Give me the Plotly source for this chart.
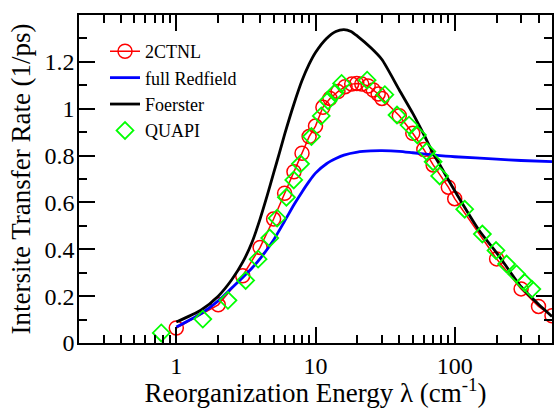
import plotly.graph_objects as go

# 2CTNL (red circles + line)
ctnl_x = [1, 2, 3, 4, 5, 6, 7, 8, 9, 10, 11.3, 12.7, 14.5, 16.3, 18.2, 19.8, 21.5, 23.9, 26, 28.2, 30,
          40, 50, 60, 70, 90, 100, 200, 300, 400, 500]
ctnl_y = [0.064, 0.163, 0.287, 0.408, 0.529, 0.639, 0.731, 0.81, 0.881, 0.926, 1.006, 1.044, 1.073, 1.094,
          1.105, 1.108, 1.105, 1.097, 1.08, 1.063, 1.044, 0.97, 0.895, 0.826, 0.76, 0.665, 0.616, 0.359,
          0.231, 0.156, 0.116]

# full Redfield (blue line)
redf_x = [1, 1.5, 2, 2.5, 3, 3.5, 4, 5, 6, 7, 8, 9, 10, 12, 14, 16, 20, 25, 30, 40, 50, 70, 100,
          200, 300, 500]
redf_y = [0.068, 0.125, 0.18, 0.235, 0.28, 0.32, 0.36, 0.44, 0.52, 0.59, 0.645, 0.69, 0.725, 0.765,
          0.787, 0.802, 0.815, 0.82, 0.821, 0.818, 0.812, 0.803, 0.795, 0.785, 0.779, 0.774]

# Foerster (black line)
foer_x = [1, 1.5, 2, 2.5, 3, 3.5, 4, 4.5, 5, 5.5, 6, 7, 8, 9, 10, 12, 14, 16, 18, 20, 25, 30, 40, 50,
          60, 70, 80, 100, 150, 200, 300, 400, 500]
foer_y = [0.09, 0.14, 0.20, 0.27, 0.345, 0.43, 0.53, 0.63, 0.725, 0.81, 0.89, 1.02, 1.12, 1.19, 1.24,
          1.30, 1.33, 1.338, 1.33, 1.31, 1.26, 1.21, 1.08, 0.98, 0.89, 0.81, 0.75, 0.65, 0.48, 0.385,
          0.24, 0.165, 0.113]

# QUAPI (green diamonds)
quapi_x = [0.78, 1.55, 2.35, 3.15, 3.87, 4.69, 5.3, 6.18, 6.98, 7.8, 9.35, 11.0, 12.3, 13.8, 15.4, 23.5,
           31.5, 38.5, 47, 54, 63, 70, 78, 118, 158, 198, 236, 278, 318, 358]
quapi_y = [0.043, 0.102, 0.182, 0.267, 0.358, 0.448, 0.533, 0.622, 0.696, 0.765, 0.881, 0.969, 1.034,
           1.068, 1.108, 1.122, 1.06, 0.973, 0.93, 0.888, 0.817, 0.774, 0.713, 0.571, 0.465, 0.395,
           0.337, 0.295, 0.258, 0.23]

x_tickvals = [1, 10, 100]
x_ticktext = ["1", "10", "100"]
x_minor = [0.2, 0.3, 0.4, 0.5, 0.6, 0.7, 0.8, 0.9, 2, 3, 4, 5, 6, 7, 8, 9,
           20, 30, 40, 50, 60, 70, 80, 90, 200, 300, 400, 500]
y_tickvals = [0, 0.2, 0.4, 0.6, 0.8, 1.0, 1.2]
y_ticktext = ["0", "0.2", "0.4", "0.6", "0.8", "1", "1.2"]
y_minor = [0.1, 0.3, 0.5, 0.7, 0.9, 1.1, 1.3]

FONT = "Liberation Serif, Times New Roman, Times, serif"

fig = go.Figure()
fig.add_trace(go.Scatter(x=ctnl_x, y=ctnl_y, mode="lines+markers", name="2CTNL",
                         line=dict(color="#ff0000", width=1.5),
                         marker=dict(symbol="circle-open", size=14, color="#ff0000",
                                     line=dict(width=1.5, color="#ff0000"))))
fig.add_trace(go.Scatter(x=redf_x, y=redf_y, mode="lines", name="full Redfield",
                         line=dict(color="#0000ff", width=2.8, shape="spline", smoothing=0.6)))
fig.add_trace(go.Scatter(x=foer_x, y=foer_y, mode="lines", name="Foerster",
                         line=dict(color="black", width=2.8, shape="spline", smoothing=0.6)))
fig.add_trace(go.Scatter(x=quapi_x, y=quapi_y, mode="markers", name="QUAPI",
                         marker=dict(symbol="diamond-open", size=13, color="#00ff00",
                                     line=dict(width=1.8, color="#00ff00"))))

axis_common = dict(showline=True, linecolor="black", linewidth=1.5, mirror="ticks",
                   ticks="inside", tickcolor="black", tickwidth=1.5, ticklen=16,
                   showgrid=False, zeroline=False, automargin=False,
                   tickfont=dict(family=FONT, size=24, color="black"))

fig.update_xaxes(type="log", range=[-0.69897, 2.69897], tickmode="array",
                 tickvals=x_tickvals, ticktext=x_ticktext, ticklabelstandoff=0,
                 minor=dict(tickmode="array", tickvals=x_minor, ticks="inside", ticklen=8,
                            tickwidth=1.5, tickcolor="black", showgrid=False),
                 title=dict(text="Reorganization Energy λ (cm<sup>-1</sup>)", standoff=6,
                            font=dict(family=FONT, size=27, color="black")),
                 **axis_common)
fig.update_yaxes(range=[0, 1.4], tickmode="array", tickvals=y_tickvals, ticktext=y_ticktext,
                 ticklabelstandoff=-2,
                 minor=dict(tickmode="array", tickvals=y_minor, ticks="inside", ticklen=8,
                            tickwidth=1.5, tickcolor="black", showgrid=False),
                 title=dict(text="Intersite Transfer Rate (1/ps)", standoff=6,
                            font=dict(family=FONT, size=27, color="black")),
                 **axis_common)

fig.update_layout(width=554, height=408, margin=dict(l=79, r=2, t=15, b=65),
                  plot_bgcolor="white", paper_bgcolor="white",
                  font=dict(family=FONT, size=22, color="black"),
                  legend=dict(x=0.055, y=0.945, xanchor="left", yanchor="top",
                              bgcolor="rgba(0,0,0,0)", font=dict(family=FONT, size=18),
                              tracegroupgap=0))

fig.write_html("out.html", config={"displayModeBar": False},
               post_script="document.body.style.margin='0px';")
